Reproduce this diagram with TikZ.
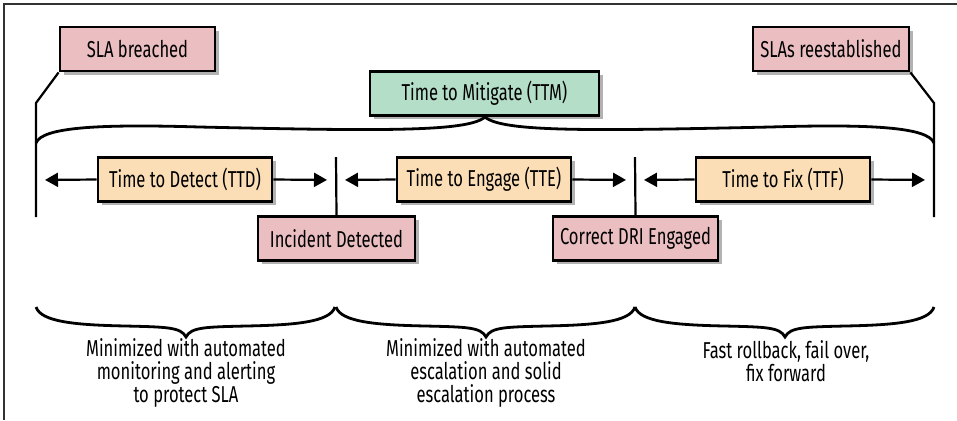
\documentclass[tikz,border=0pt]{standalone}
\usepackage{fontspec}
\setmainfont{Fira Sans}[FakeStretch=0.72]
\usepackage{tikz}
\usetikzlibrary{arrows.meta,shadows}
\definecolor{slapink}{RGB}{235,190,193}
\definecolor{ttmgreen}{RGB}{180,222,200}
\definecolor{phasepeach}{RGB}{252,222,182}
\definecolor{framegray}{RGB}{50,50,50}

\begin{document}
\begin{tikzpicture}[x=0.5pt, y=-0.5pt, line width=1.1pt,
        box/.style={draw, line width=1.4pt, minimum height=22pt, inner sep=2pt,
            font=\fontsize{11.5}{13}\selectfont,
            drop shadow={shadow xshift=1.8pt, shadow yshift=-1.8pt, opacity=0.3, fill=black}},
        event/.style={box, fill=slapink},
        phase/.style={box, fill=phasepeach, minimum width=87pt},
        arr/.style={-{Triangle[length=6.5pt, width=7pt]}, shorten >=4.5pt},
        brc/.style={line width=1.4pt},
        note/.style={align=center, font=\fontsize{11.5}{11.6}\selectfont}]
        \useasboundingbox (0, 0) rectangle (957, 420);
        \draw[framegray, line width=0.7pt] (4, 420) -- (4, 4) -- (957, 4);

        % events on top
        \draw (137.5, 49) node(sla)[event, minimum width=77.5pt]{SLA breached};
        \draw (831, 49) node(slare)[event, minimum width=78pt]{SLAs reestablished};
        \draw (484.5, 93.5) node(ttm)[box, fill=ttmgreen, minimum width=114.5pt]{Time to Mitigate (TTM)};

        % timeline borders
        \coordinate (lbend) at (36, 103);
        \coordinate (lend) at (36, 217);
        \coordinate (rbend) at (934, 103);
        \coordinate (rend) at (934, 217);
        \draw (sla.south west) -- (lbend) -- (lend);
        \draw (slare.south east) -- (rbend) -- (rend);
        \coordinate (ttml) at (36, 143);
        \coordinate (ttmr) at (934, 143);
        \coordinate (ttmtip) at (485, 117);
        \draw[brc] (ttml) .. controls (42, 127) and (100, 124) .. (200, 127)
            .. controls (380, 131) and (468, 132) .. (ttmtip)
            .. controls (502, 132) and (590, 131) .. (770, 127)
            .. controls (870, 124) and (928, 127) .. (ttmr);

        % phases
        \draw (185, 179.5) node(ttd)[phase]{Time to Detect (TTD)};
        \draw (484, 179.5) node(tte)[phase]{Time to Engage (TTE)};
        \draw (783, 179.5) node(ttf)[phase]{Time to Fix (TTF)};
        \draw (336.5, 238.5) node(detected)[event, minimum width=78.5pt]{Incident Detected};
        \draw (635.5, 238.5) node(dri)[event, minimum width=82.5pt]{Correct DRI Engaged};
        \coordinate (t0) at (36, 180);
        \coordinate (t1) at (336, 180);
        \coordinate (t2) at (635, 180);
        \coordinate (t3) at (934, 180);
        \coordinate (t1top) at (336, 157);
        \coordinate (t2top) at (635, 157);
        \draw (t1top) -- (detected.north);
        \draw (t2top) -- (dri.north);
        \draw[arr] (ttd.west) -- (t0);
        \draw[arr] (ttd.east) -- (t1);
        \draw[arr] (tte.west) -- (t1);
        \draw[arr] (tte.east) -- (t2);
        \draw[arr] (ttf.west) -- (t2);
        \draw[arr] (ttf.east) -- (t3);

        % bottom braces
        \foreach \xs in {36, 336, 635} {
            \draw[brc] (\xs, 307) .. controls (\xs+5, 322) and (\xs+40, 325) .. (\xs+90, 326)
                .. controls (\xs+130, 327) and (\xs+145, 327) .. (\xs+150, 337)
                .. controls (\xs+155, 327) and (\xs+170, 327) .. (\xs+210, 326)
                .. controls (\xs+260, 325) and (\xs+294, 322) .. (\xs+299, 307);
        }
        \draw (186, 373) node(n1)[note]{Minimized with automated\\monitoring and alerting\\to protect SLA};
        \draw (486, 373) node(n2)[note]{Minimized with automated\\escalation and solid\\escalation process};
        \draw (786, 361.5) node(n3)[note]{Fast rollback, fail over,\\fix forward};
    \end{tikzpicture}
\end{document}
